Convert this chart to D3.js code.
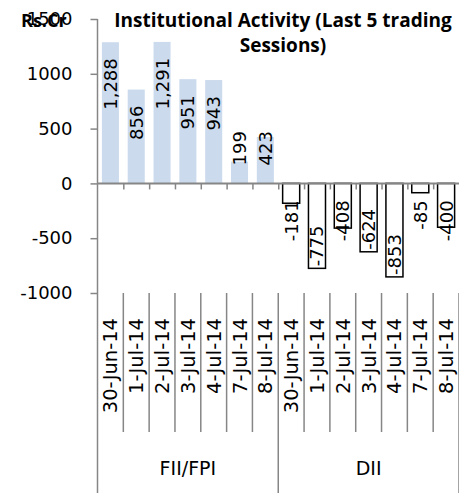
<!DOCTYPE html>
<html>
<head>
<meta charset="utf-8">
<script src="https://cdn.jsdelivr.net/npm/d3@7"></script>
<style>
  body { margin: 0; background: #fff; }
  text { font-family: "DejaVu Sans", sans-serif; fill: #000; }
</style>
</head>
<body>
<div id="chart"></div>
<script>
//chart data
var dates = ["30-Jun-14", "1-Jul-14", "2-Jul-14", "3-Jul-14", "4-Jul-14", "7-Jul-14", "8-Jul-14"];
var groups = ["FII/FPI", "DII"];
var fiiValues = [1288, 856, 1291, 951, 943, 199, 423];
var diiValues = [-181, -775, -408, -624, -853, -85, -400];
var yTicks = [-1000, -500, 0, 500, 1000, 1500];
var titleLines = ["Institutional Activity (Last 5 trading", "Sessions)"];
var unitLabel = "Rs.Cr";

function init() {
  var w = 459;
  var h = 493;
  var left = 97.5;
  var right = 459;
  var axisGrey = "#868686";

  var svg = d3.select("#chart").append("svg").attr("width", w).attr("height", h);

  //number format with plain hyphen minus like excel
  var locale = d3.formatLocale({ decimal: ".", thousands: ",", grouping: [3], currency: ["", ""], minus: "-" });
  var labelFormat = locale.format(",");
  var tickFormat = locale.format("d");

  //build rows for every bar
  var data = [];
  groups.forEach(function (g, gi) {
    var vals = gi === 0 ? fiiValues : diiValues;
    dates.forEach(function (d, i) {
      data.push({ key: g + "|" + d, group: g, date: d, value: vals[i] });
    });
  });

  var xScale = d3
    .scaleBand()
    .domain(data.map(function (d) { return d.key; }))
    .range([left, right])
    .paddingInner(0.34)
    .paddingOuter(0.17);

  //index scale for boundaries between categories
  var idxScale = d3.scaleLinear().domain([0, data.length]).range([left, right]);

  var yScale = d3.scaleLinear().domain([-1000, 1500]).range([293, 19]);
  var y0 = yScale(0);

  //bars
  svg
    .selectAll(".bar")
    .data(data)
    .enter()
    .append("rect")
    .attr("class", "bar")
    .attr("x", function (d) { return xScale(d.key); })
    .attr("width", xScale.bandwidth())
    .attr("y", function (d) { return Math.min(yScale(d.value), y0); })
    .attr("height", function (d) { return Math.abs(yScale(d.value) - y0); })
    .style("fill", function (d) { return d.value >= 0 ? "#cbdaed" : "#fff"; })
    .style("stroke", function (d) { return d.value >= 0 ? "none" : "#000"; })
    .style("stroke-width", 1.5);

  //y axis
  var yAxis = d3.axisLeft(yScale).tickValues(yTicks).tickFormat(tickFormat).tickSize(7).tickPadding(18);
  var gy = svg.append("g").attr("transform", "translate(" + left + ",0)").call(yAxis);
  gy.select(".domain").remove();
  gy.selectAll("line").attr("stroke", axisGrey).attr("stroke-width", 1.5);
  gy.selectAll("text").style("font-size", "18px").style("font-family", "DejaVu Sans").attr("fill", "#000");

  //vertical axis line runs all the way down through the category area
  svg
    .append("line")
    .attr("x1", left).attr("x2", left)
    .attr("y1", yScale(1500)).attr("y2", h)
    .attr("stroke", axisGrey).attr("stroke-width", 1.5);

  //zero line with small ticks between categories
  var zeroAxis = d3
    .axisBottom(idxScale)
    .tickValues(d3.range(1, data.length))
    .tickSize(6)
    .tickFormat("");
  var gz = svg.append("g").attr("transform", "translate(0," + y0 + ")").call(zeroAxis);
  gz.select(".domain").attr("stroke", axisGrey).attr("stroke-width", 2).attr("d", "M" + left + ",0H" + right);
  gz.selectAll("line").attr("stroke", axisGrey).attr("stroke-width", 1.5);

  //separators in category area
  var catTop = yScale(-1000);
  svg
    .selectAll(".sep")
    .data(d3.range(1, data.length + 1))
    .enter()
    .append("line")
    .attr("class", "sep")
    .attr("x1", function (i) { return idxScale(i); })
    .attr("x2", function (i) { return idxScale(i); })
    .attr("y1", catTop)
    .attr("y2", function (i) { return i % dates.length === 0 ? h : 432; })
    .attr("stroke", axisGrey)
    .attr("stroke-width", 1.5);

  //date labels, rotated
  svg
    .selectAll(".date-label")
    .data(data)
    .enter()
    .append("text")
    .attr("class", "date-label")
    .attr("transform", function (d) {
      return "translate(" + (xScale(d.key) + xScale.bandwidth() / 2) + "," + 318 + ") rotate(-90)";
    })
    .attr("dy", "0.36em")
    .attr("text-anchor", "end")
    .style("font-size", "19.5px")
    .text(function (d) { return d.date; });

  //group labels
  svg
    .selectAll(".group-label")
    .data(groups)
    .enter()
    .append("text")
    .attr("class", "group-label")
    .attr("x", function (g, gi) { return (idxScale(gi * dates.length) + idxScale((gi + 1) * dates.length)) / 2; })
    .attr("y", 475)
    .attr("text-anchor", "middle")
    .style("font-size", "19px")
    .text(function (g) { return g; });

  //value labels inside bar end, kept clear of the zero line
  svg
    .selectAll(".value-label")
    .data(data)
    .enter()
    .append("text")
    .attr("class", "value-label")
    .attr("dy", "0.36em")
    .style("font-size", "18px")
    .text(function (d) { return labelFormat(d.value); })
    .each(function (d) {
      var len = this.getComputedTextLength();
      var cx = xScale(d.key) + xScale.bandwidth() / 2;
      var bottom;
      if (d.value >= 0) {
        var top = yScale(d.value) + 16;
        bottom = Math.min(top + len, y0 - 18);
      } else {
        bottom = Math.max(yScale(d.value) - 2, y0 + 17 + len);
      }
      d3.select(this)
        .attr("text-anchor", "start")
        .attr("transform", "translate(" + cx + "," + bottom + ") rotate(-90)");
    });

  //title
  svg
    .selectAll(".title")
    .data(titleLines)
    .enter()
    .append("text")
    .attr("class", "title")
    .attr("x", 283)
    .attr("y", function (d, i) { return 27 + i * 25; })
    .attr("text-anchor", "middle")
    .style("font-family", "Open Sans")
    .style("font-weight", "bold")
    .style("font-size", "19px")
    .text(function (d) { return d; });

  //unit label overlapping top tick like the original
  svg
    .append("text")
    .attr("x", 21)
    .attr("y", 27)
    .style("font-family", "Open Sans")
    .style("font-weight", "bold")
    .style("font-size", "18px")
    .text(unitLabel);
}

init();
</script>
</body>
</html>
